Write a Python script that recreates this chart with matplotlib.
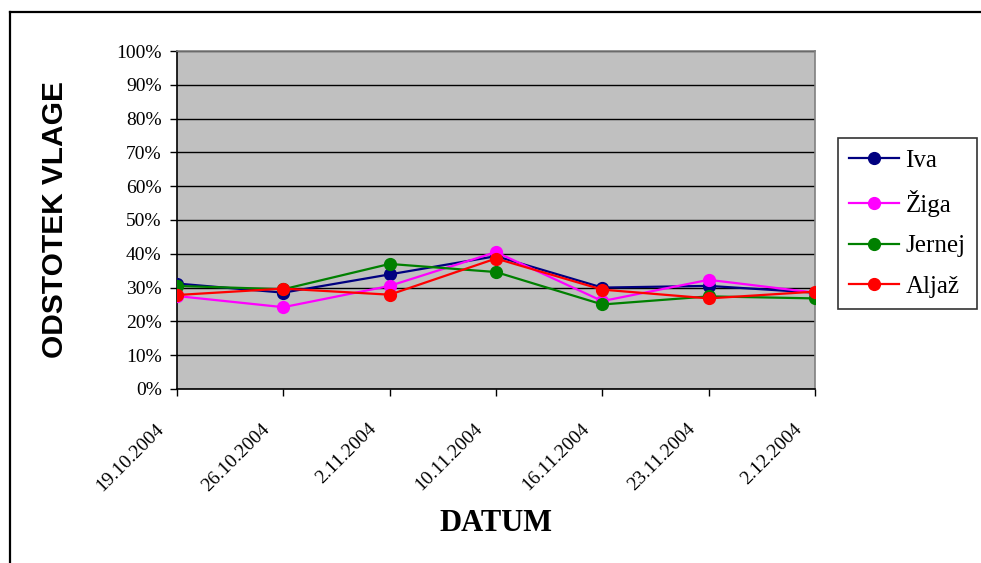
import matplotlib.pyplot as plt
import matplotlib.transforms as mtransforms
from matplotlib.lines import Line2D

# Podatki
datumi = ["19.10.2004", "26.10.2004", "2.11.2004", "10.11.2004",
          "16.11.2004", "23.11.2004", "2.12.2004"]

iva = [31.2, 28.5, 33.9, 39.3, 30.0, 30.5, 28.5]
ziga = [27.5, 24.2, 30.5, 40.5, 26.0, 32.3, 28.5]
jernej = [30.5, 29.5, 37.0, 34.6, 25.0, 27.4, 26.8]
aljaz = [27.8, 29.7, 27.9, 38.6, 29.4, 26.8, 28.8]

serije = [("Iva", iva, "#000080"),
          ("Žiga", ziga, "#FF00FF"),
          ("Jernej", jernej, "#008000"),
          ("Aljaž", aljaz, "#FF0000")]

serif = "Liberation Serif"

fig = plt.figure(figsize=(9.81, 5.63), dpi=100)
ax = fig.add_axes([0.1804, 0.3091, 0.6504, 0.6003])
ax.set_facecolor("#C0C0C0")

x = list(range(len(datumi)))
for ime, vrednosti, barva in serije:
    ax.plot(x, vrednosti, color=barva, lw=1.6, marker="o", markersize=8.5,
            label=ime, zorder=3)

ax.set_xlim(0, len(datumi) - 1)
ax.set_ylim(0, 100)
ax.set_yticks(range(0, 101, 10))
ax.set_yticklabels([f"{v}%" for v in range(0, 101, 10)], fontfamily=serif, fontsize=14)
ax.yaxis.grid(True, color="black", lw=1)
ax.set_axisbelow(True)

ax.tick_params(axis="x", direction="out", length=5, width=1, labelbottom=False)
ax.tick_params(axis="y", direction="out", length=5, pad=6, width=1)
ax.set_xticks(x)

# Datumi pod osjo, zasukani za 45°
odmik = mtransforms.ScaledTranslation(-16 / 100, -27 / 72, fig.dpi_scale_trans)
for xi, d in zip(x, datumi):
    ax.text(xi, 0, d, transform=ax.get_xaxis_transform() + odmik,
            fontfamily=serif, fontsize=14, rotation=45,
            ha="right", va="center", rotation_mode="anchor")

for s in ("left", "bottom"):
    ax.spines[s].set_color("black")
    ax.spines[s].set_linewidth(1.2)
for s in ("top", "right"):
    ax.spines[s].set_color("#808080")
    ax.spines[s].set_linewidth(1.2)

# Naslova osi
fig.text(0.056, 0.61, "ODSTOTEK VLAGE", rotation=90, ha="center", va="center",
         fontfamily="Liberation Sans", fontweight="bold", fontsize=21.5)
fig.text(0.5056, 0.071, "DATUM", ha="center", va="center",
         fontfamily=serif, fontweight="bold", fontsize=22)

# Legenda
leg = fig.legend(loc="upper left", bbox_to_anchor=(838 / 981, 1 - 138 / 563),
                 prop={"family": serif, "size": 18}, frameon=True, fancybox=False,
                 edgecolor="black", borderpad=0.45, labelspacing=0.72,
                 handlelength=2.0, handletextpad=0.25, borderaxespad=0)
leg.get_frame().set_linewidth(1.2)

# Okvir grafikona
fig.add_artist(Line2D([10 / 981, 1], [1 - 12 / 563] * 2, color="black", lw=1.6))
fig.add_artist(Line2D([10 / 981] * 2, [0, 1 - 12 / 563], color="black", lw=1.6))

fig.savefig("out.png", dpi=100)
